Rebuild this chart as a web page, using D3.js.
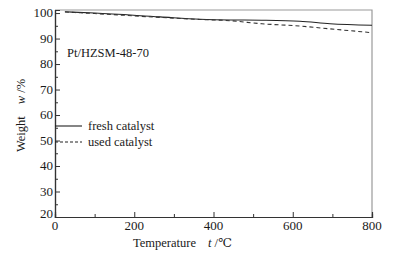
<!DOCTYPE html>
<html>
<head>
<meta charset="utf-8">
<script src="https://cdn.jsdelivr.net/npm/d3@7"></script>
<style>
  body { margin: 0; background: #fff; }
  text { font-family: "Liberation Serif", "DejaVu Serif", serif; fill: #1a1a1a; }
</style>
</head>
<body>
<div id="chart"></div>
<script>
var WIDTH = 393, HEIGHT = 255;
var margin = {left: 55, right: 21, top: 10, bottom: 38};

// temperature (deg C) and weight (%)
var freshTemp = [25, 100, 265, 366, 442, 522, 618, 694, 800];
var freshWeight = [100.5, 100.0, 98.5, 97.6, 97.3, 97.2, 96.8, 95.8, 95.2];
var usedTemp = [25, 100, 265, 366, 442, 522, 618, 694, 800];
var usedWeight = [100.4, 99.8, 98.3, 97.5, 97.0, 95.8, 94.9, 93.8, 92.3];

var xTicks = [0, 200, 400, 600, 800];
var yTicks = [20, 30, 40, 50, 60, 70, 80, 90, 100];
var legendNames = ["fresh catalyst", "used catalyst"];

var svg = d3.select("#chart").append("svg")
  .attr("width", WIDTH)
  .attr("height", HEIGHT);

var x = d3.scaleLinear().domain([0, 800]).range([margin.left, WIDTH - margin.right]);
var y = d3.scaleLinear().domain([20, 101.2]).range([HEIGHT - margin.bottom, margin.top]);

// frame top/right
svg.append("path")
  .attr("d", "M" + x(0) + "," + y(101.2) + "H" + x(800) + "V" + y(20))
  .attr("fill", "none")
  .attr("stroke", "#9a9a9a")
  .attr("stroke-width", 1.2);

// minor ticks
var xAxisMinor = d3.axisTop(x).tickValues(d3.range(100, 800, 200)).tickSize(3).tickFormat("");
var yAxisMinor = d3.axisRight(y).tickValues(d3.range(25, 101, 10)).tickSize(3).tickFormat("");

var gx = svg.append("g").attr("transform", "translate(0," + y(20) + ")");
gx.call(d3.axisTop(x).tickValues(xTicks).tickSize(5).tickFormat(""));
gx.append("g").call(xAxisMinor);
gx.selectAll("line").attr("stroke", "#333");
gx.selectAll("path").attr("stroke", "#333").attr("stroke-width", 1.2);

var gy = svg.append("g").attr("transform", "translate(" + x(0) + ",0)");
gy.call(d3.axisRight(y).tickValues(yTicks).tickSize(5).tickFormat(""));
gy.append("g").call(yAxisMinor);
gy.selectAll("line").attr("stroke", "#333");
gy.selectAll("path").attr("stroke", "#333").attr("stroke-width", 1.2);

// tick labels
svg.selectAll(".xlab").data(xTicks).enter().append("text")
  .attr("x", function(d) { return x(d); })
  .attr("y", y(20) + 13)
  .attr("text-anchor", "middle")
  .style("font-size", "13px")
  .text(function(d) { return d; });

svg.selectAll(".ylab").data(yTicks).enter().append("text")
  .attr("x", x(0) - 2)
  .attr("y", function(d) { return y(d) + 4 - (d === 20 ? 3 : 0); })
  .attr("text-anchor", "end")
  .style("font-size", "13px")
  .text(function(d) { return d; });

// curves
var line = d3.line()
  .x(function(d) { return x(d[0]); })
  .y(function(d) { return y(d[1]); })
  .curve(d3.curveMonotoneX);

svg.append("path")
  .datum(d3.zip(freshTemp, freshWeight))
  .attr("d", line)
  .attr("fill", "none")
  .attr("stroke", "#222")
  .attr("stroke-width", 1.1);

svg.append("path")
  .datum(d3.zip(usedTemp, usedWeight))
  .attr("d", line)
  .attr("fill", "none")
  .attr("stroke", "#333")
  .attr("stroke-width", 1.1)
  .attr("stroke-dasharray", "4,3");

// sample label
svg.append("text")
  .attr("x", 67)
  .attr("y", 57)
  .style("font-size", "12.5px")
  .text("Pt/HZSM-48-70");

// legend
var legY = [126, 142];
legendNames.forEach(function(name, i) {
  svg.append("line")
    .attr("x1", x(0)).attr("x2", x(0) + 27)
    .attr("y1", legY[i]).attr("y2", legY[i])
    .attr("stroke", "#222")
    .attr("stroke-width", 1.1)
    .attr("stroke-dasharray", i === 1 ? "3,2" : null);
  svg.append("text")
    .attr("x", x(0) + 33)
    .attr("y", legY[i] + 4)
    .style("font-size", "12.5px")
    .text(name);
});

// axis titles
var xt = svg.append("text")
  .attr("x", 133)
  .attr("y", 247)
  .style("font-size", "12.5px");
xt.append("tspan").text("Temperature");
xt.append("tspan").attr("dx", 12).style("font-style", "italic").text("t");
xt.append("tspan").text(" /\u2103");

var yt = svg.append("text")
  .attr("transform", "translate(25,152) rotate(-90)")
  .style("font-size", "12.5px");
yt.append("tspan").text("Weight");
yt.append("tspan").attr("dx", 12).style("font-style", "italic").text("w");
yt.append("tspan").text(" /%");
</script>
</body>
</html>
